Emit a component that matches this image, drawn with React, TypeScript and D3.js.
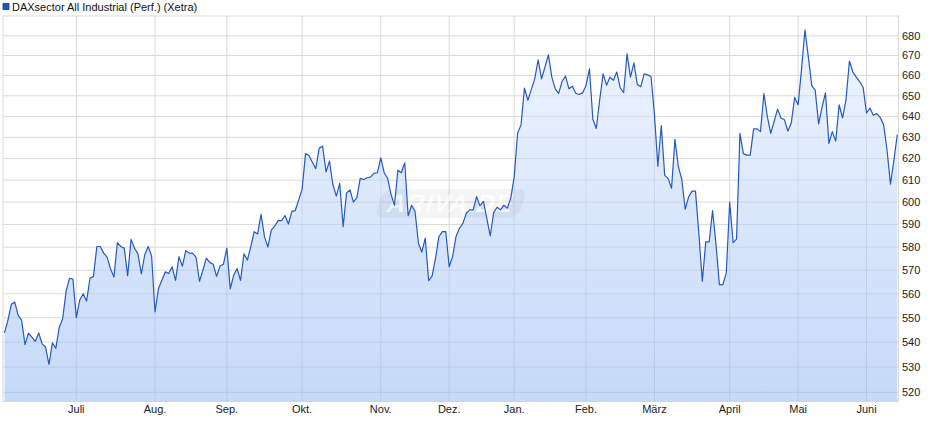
import React from "react";
import * as d3 from "d3";

const title = "DAXsector All Industrial (Perf.) (Xetra)";

// trading-day closes (index-based x axis)
const values: number[] = [
  543.8, 549, 555.6, 556.5, 551, 549, 539, 543.7, 542, 540.3, 543.7, 539.3, 538, 531, 539.7, 537.5, 546, 549.6, 561, 566.6, 566.2,
  550, 557.4, 560, 557, 566.6, 567.4, 580.3, 580.3, 577.4, 575.7, 570.6, 567.1, 582, 580.3, 579.6, 567.7, 583.4, 579.6, 577.1, 568.5, 576.7, 580.3,
  576.2, 552.4, 562.1, 565.7, 569.3, 568.6, 571.5, 565.7, 575.9, 571.8, 578.5, 577.4, 577.4, 575.6, 565.3, 570, 575.2, 573.4, 572.6, 567.4, 571.8, 572.6,
  579.6, 562.1, 567.9, 570.7, 565.7, 577.1, 574.4, 580.3, 586.8, 585.8, 594.5, 584.6, 580, 587.5, 589.3, 591.7, 591.7, 594, 590.2, 595.8, 596.2, 601,
  605.8, 622.3, 621.4, 618.3, 615.3, 624.9, 625.7, 613.8, 618.8, 608, 602.7, 608.5, 589, 604.2, 605.5, 600, 602, 610.8, 610.3, 611.1, 611.4, 613.1, 613.4,
  620.3, 613.4, 610.8, 603.5, 598.5, 614.6, 613.4, 618, 593.9, 598.5, 596, 581.8, 577.8, 584, 565.6, 567.5, 575.1, 584.6, 586.8, 586.8,
  571.5, 576, 584.7, 588.3, 590.5, 595, 596.5, 596.5, 602.5, 598.3, 600.3, 592.7, 584.9, 595.3, 597.7, 596.5, 598.6, 597.3, 601.8,
  611.5, 631.9, 635.9, 653.8, 647.8, 653, 658.3, 667.8, 658.3, 664.2, 670.3, 659.2, 653.4, 651.2, 657, 659.7, 653.4, 654.7, 651.2, 650.6, 651.4,
  655, 663.3, 638.6, 634.2, 648, 660.8, 655.2, 659.2, 657.6, 661.7, 653.9, 651.6, 670.8, 659.2, 666.3, 655.5, 654.4, 660.8, 660.3, 659.5,
  641, 616.4, 635.6, 612.2, 610.8, 606.3, 629, 616.2, 610.3, 596.8, 602.4, 605, 605, 585.7, 565.3, 582.3, 582.3, 596.2, 581.2, 563.9, 563.9, 568.8,
  600, 582, 583.5, 631.9, 622.3, 621.6, 621.6, 634, 634, 632.7, 651.1, 640, 631.9, 637.6, 643.5, 639.2, 638.4, 633, 636.8, 649.2,
  645.6, 663, 683, 669.2, 655, 652.6, 636.4, 644.4, 651.4, 627.1, 632.7, 628.2, 645.6, 639.2, 648, 667.2, 661.7, 659.2, 657, 654.2,
  641.6, 644, 640.5, 641.3, 639.5, 636, 624, 608.2, 619.2, 631.3,
];

const monthLabels = ["Juli", "Aug.", "Sep.", "Okt.", "Nov.", "Dez.", "Jan.", "Feb.", "März", "April", "Mai", "Juni"];
const monthIndex = [21, 44, 65, 87, 110, 130, 149, 170, 190, 212, 232, 252];
const yTicks = [520, 530, 540, 550, 560, 570, 580, 590, 600, 610, 620, 630, 640, 650, 660, 670, 680];

const W = 940;
const H = 435;
const left = 3;
const right = 898.5;
const top = 16;
const bottom = 401.5;

export default function App() {
  const x = d3.scaleLinear().domain([0, values.length - 1]).range([4.5, 897.3]);
  const y = d3.scaleLog().domain([516.6, 690.2]).range([401, 16]);

  const line = d3
    .line<number>()
    .x((_, i) => x(i))
    .y((d) => y(d));
  const area = d3
    .area<number>()
    .x((_, i) => x(i))
    .y0(bottom)
    .y1((d) => y(d));

  const font = "'Liberation Sans', Arial, sans-serif";
  const grid = "#d9d9d9";

  return (
    <svg
      width={W}
      height={H}
      style={{ position: "absolute", left: 0, top: 0, background: "#fff" }}
      fontFamily={font}
    >
      <defs>
        <linearGradient id="fillGrad" gradientUnits="userSpaceOnUse" x1="0" y1={top} x2="0" y2={bottom}>
          <stop offset="0" stopColor="rgb(226,237,254)" />
          <stop offset="1" stopColor="rgb(150,186,242)" />
        </linearGradient>
        <clipPath id="plotClip">
          <rect x={left} y={top} width={right - left} height={bottom - top} />
        </clipPath>
      </defs>

      {/* legend */}
      <rect x={3} y={3.5} width={6} height={6} fill="#1c55c4" stroke="#123a8a" strokeWidth={0.8} />
      <text x={12} y={11} fontSize={11} fill="#111">
        {title}
      </text>

      {/* grid */}
      <g>
        {yTicks.map((t) => (
          <line key={t} x1={left} x2={right} y1={y(t)} y2={y(t)} stroke={grid} strokeWidth={1} />
        ))}
        {monthIndex.map((m) => (
          <line key={m} x1={x(m)} x2={x(m)} y1={top} y2={bottom} stroke={grid} strokeWidth={1} />
        ))}
        <rect x={left} y={top} width={right - left} height={bottom - top} fill="none" stroke={grid} strokeWidth={1} />
      </g>

      <g clipPath="url(#plotClip)">
        <path d={area(values) ?? ""} fill="url(#fillGrad)" fillOpacity={0.55} />
        {/* watermark */}
        <g transform="translate(451,203) skewX(-18)" opacity={0.9}>
          <rect x={-72} y={-14} width={144} height={29} rx={9} fill="#000" fillOpacity={0.045} />
          <text
            x={0}
            y={9}
            textAnchor="middle"
            fontSize={25}
            fontWeight="bold"
            fill="#fff"
            fillOpacity={0.75}
            letterSpacing={1}
          >
            ARIVA.DE
          </text>
        </g>
        <path d={line(values) ?? ""} fill="none" stroke="#2459c4" strokeWidth={1.2} strokeLinejoin="round" />
      </g>

      {/* y labels */}
      {yTicks.map((t) => (
        <text key={t} x={902} y={y(t)} dy="0.35em" fontSize={11} fill="#222">
          {t}
        </text>
      ))}

      {/* x labels */}
      {monthIndex.map((m, i) => (
        <text key={m} x={x(m)} y={413} textAnchor="middle" fontSize={11} fill="#222">
          {monthLabels[i]}
        </text>
      ))}
    </svg>
  );
}
